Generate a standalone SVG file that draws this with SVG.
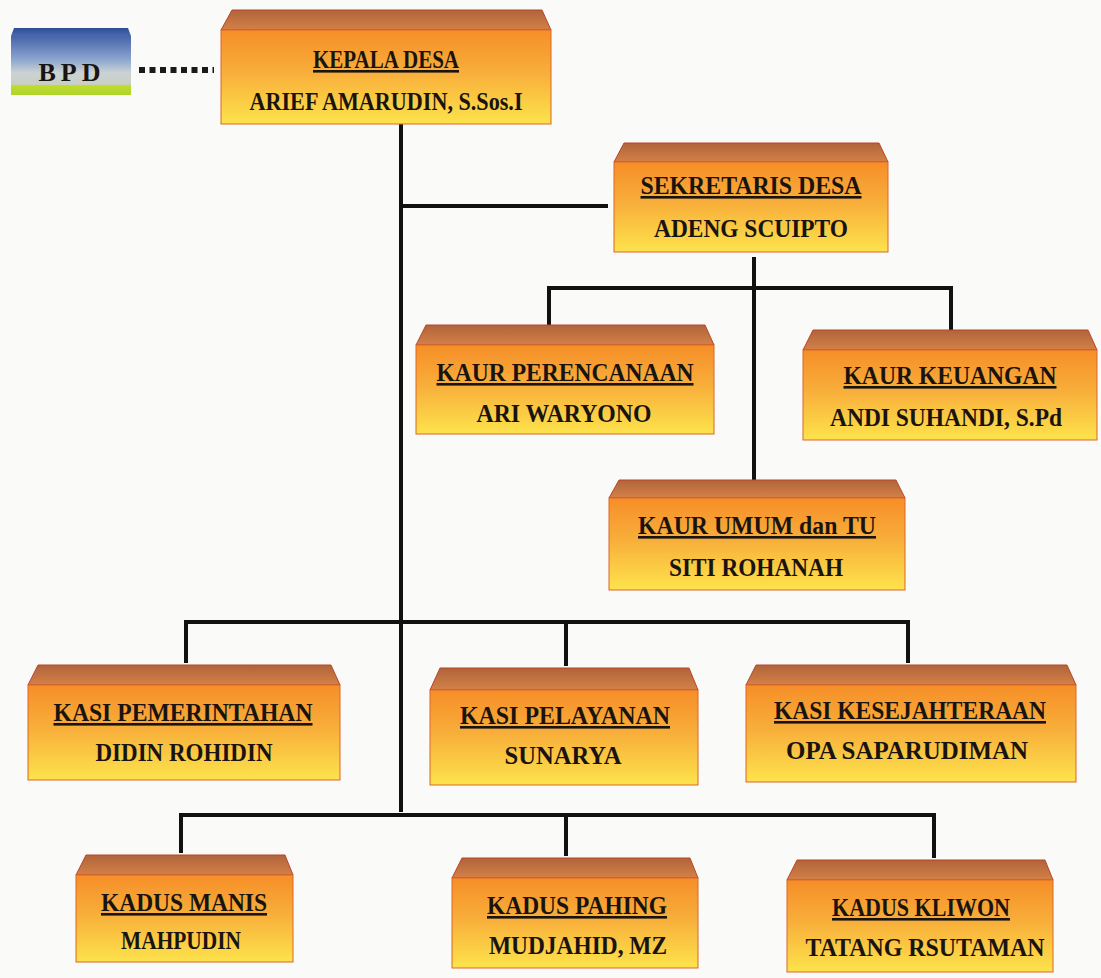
<svg xmlns="http://www.w3.org/2000/svg" width="1101" height="978" viewBox="0 0 1101 978">
<defs>
<linearGradient id="front" x1="0" y1="0" x2="0" y2="1">
<stop offset="0" stop-color="#F68E28"/>
<stop offset="0.45" stop-color="#F8AE3A"/>
<stop offset="1" stop-color="#FDE34C"/>
</linearGradient>
<linearGradient id="bevel" x1="0" y1="0" x2="0" y2="1">
<stop offset="0" stop-color="#B0643A"/>
<stop offset="1" stop-color="#D48148"/>
</linearGradient>
<linearGradient id="bpd" x1="0" y1="0" x2="0" y2="1">
<stop offset="0" stop-color="#4564AA"/>
<stop offset="0.4" stop-color="#8CA6D0"/>
<stop offset="0.62" stop-color="#CBD2D3"/>
<stop offset="0.82" stop-color="#C9D0C6"/>
<stop offset="0.84" stop-color="#BFDC2E"/>
<stop offset="1" stop-color="#AFD42A"/>
</linearGradient>
<linearGradient id="bpdtop" x1="0" y1="0" x2="0" y2="1">
<stop offset="0" stop-color="#2E4C94"/>
<stop offset="1" stop-color="#4A69B0"/>
</linearGradient>
</defs>
<style>
.bev{fill:url(#bevel);stroke:#B8452A;stroke-width:1}
.face{fill:url(#front);stroke:#D9662A;stroke-width:1}
.t{font-family:'Liberation Serif','DejaVu Serif',serif;font-weight:bold;font-size:26px;fill:#1A1410;text-anchor:middle}
.u{text-decoration:underline}
.c{fill:none;stroke:#111;stroke-width:4}
</style>
<rect width="1101" height="978" fill="#FAFAF8"/>

<g id="connectors">
<path class="c" d="M401 124 V812"/>
<path class="c" d="M401 206 H608"/>
<path class="c" d="M754 257 V480"/>
<path class="c" d="M549 326 V288 H951 V330"/>
<path class="c" d="M186 663 V622 H908 V663"/>
<path class="c" d="M566 622 V666"/>
<path class="c" d="M181 853 V815 H934 V858"/>
<path class="c" d="M566 815 V856"/>
<path d="M139 70 H214" fill="none" stroke="#1A1A1A" stroke-width="6" stroke-dasharray="6 4.5"/>
</g>

<g id="bpd">
<polygon points="14,28 128,28 131,36 11,36" fill="url(#bpdtop)"/>
<rect x="11" y="36" width="120" height="59" fill="url(#bpd)"/>
<text class="t" x="72" y="81" font-size="20" letter-spacing="5" fill="#222">BPD</text>
</g>

<g id="kepala-desa">
<polygon class="bev" points="232,10 542,10 551,30 221,30"/>
<rect class="face" x="221" y="30" width="330" height="94"/>
<text class="t u" x="386" y="68" textLength="146" lengthAdjust="spacingAndGlyphs">KEPALA DESA</text>
<text class="t" x="386" y="110" textLength="273" lengthAdjust="spacingAndGlyphs">ARIEF AMARUDIN, S.Sos.I</text>
</g>

<g id="sekretaris-desa">
<polygon class="bev" points="624,143 879,143 888,162 614,162"/>
<rect class="face" x="614" y="162" width="274" height="90"/>
<text class="t u" x="751" y="194" textLength="221" lengthAdjust="spacingAndGlyphs">SEKRETARIS DESA</text>
<text class="t" x="751" y="237" textLength="194" lengthAdjust="spacingAndGlyphs">ADENG SCUIPTO</text>
</g>

<g id="kaur-perencanaan">
<polygon class="bev" points="426,325 705,325 714,345 416,345"/>
<rect class="face" x="416" y="345" width="298" height="89"/>
<text class="t u" x="565" y="381" textLength="257" lengthAdjust="spacingAndGlyphs">KAUR PERENCANAAN</text>
<text class="t" x="564" y="422" textLength="175" lengthAdjust="spacingAndGlyphs">ARI WARYONO</text>
</g>

<g id="kaur-keuangan">
<polygon class="bev" points="813,330 1088,330 1097,350 803,350"/>
<rect class="face" x="803" y="350" width="294" height="90"/>
<text class="t u" x="950" y="384" textLength="213" lengthAdjust="spacingAndGlyphs">KAUR KEUANGAN</text>
<text class="t" x="946" y="426" textLength="232" lengthAdjust="spacingAndGlyphs">ANDI SUHANDI, S.Pd</text>
</g>

<g id="kaur-umum">
<polygon class="bev" points="619,480 896,480 905,498 609,498"/>
<rect class="face" x="609" y="498" width="296" height="92"/>
<text class="t u" x="757" y="534" textLength="238" lengthAdjust="spacingAndGlyphs">KAUR UMUM dan TU</text>
<text class="t" x="756" y="576" textLength="174" lengthAdjust="spacingAndGlyphs">SITI ROHANAH</text>
</g>

<g id="kasi-pemerintahan">
<polygon class="bev" points="38,665 331,665 340,685 28,685"/>
<rect class="face" x="28" y="685" width="312" height="95"/>
<text class="t u" x="183" y="721" textLength="259" lengthAdjust="spacingAndGlyphs">KASI PEMERINTAHAN</text>
<text class="t" x="184" y="761" textLength="177" lengthAdjust="spacingAndGlyphs">DIDIN ROHIDIN</text>
</g>

<g id="kasi-pelayanan">
<polygon class="bev" points="440,668 689,668 698,690 430,690"/>
<rect class="face" x="430" y="690" width="268" height="95"/>
<text class="t u" x="565" y="724" textLength="210" lengthAdjust="spacingAndGlyphs">KASI PELAYANAN</text>
<text class="t" x="563" y="764" textLength="117" lengthAdjust="spacingAndGlyphs">SUNARYA</text>
</g>

<g id="kasi-kesejahteraan">
<polygon class="bev" points="756,665 1067,665 1076,685 746,685"/>
<rect class="face" x="746" y="685" width="330" height="97"/>
<text class="t u" x="910" y="719" textLength="272" lengthAdjust="spacingAndGlyphs">KASI KESEJAHTERAAN</text>
<text class="t" x="907" y="759" textLength="242" lengthAdjust="spacingAndGlyphs">OPA SAPARUDIMAN</text>
</g>

<g id="kadus-manis">
<polygon class="bev" points="86,855 285,855 293,875 76,875"/>
<rect class="face" x="76" y="875" width="217" height="87"/>
<text class="t u" x="184" y="911" textLength="166" lengthAdjust="spacingAndGlyphs">KADUS MANIS</text>
<text class="t" x="181" y="949" textLength="120" lengthAdjust="spacingAndGlyphs">MAHPUDIN</text>
</g>

<g id="kadus-pahing">
<polygon class="bev" points="462,858 690,858 698,878 452,878"/>
<rect class="face" x="452" y="878" width="246" height="90"/>
<text class="t u" x="577" y="914" textLength="180" lengthAdjust="spacingAndGlyphs">KADUS PAHING</text>
<text class="t" x="578" y="954" textLength="178" lengthAdjust="spacingAndGlyphs">MUDJAHID, MZ</text>
</g>

<g id="kadus-kliwon">
<polygon class="bev" points="797,860 1045,860 1053,880 787,880"/>
<rect class="face" x="787" y="880" width="266" height="92"/>
<text class="t u" x="921" y="916" textLength="178" lengthAdjust="spacingAndGlyphs">KADUS KLIWON</text>
<text class="t" x="925" y="956" textLength="239" lengthAdjust="spacingAndGlyphs">TATANG RSUTAMAN</text>
</g>
</svg>
